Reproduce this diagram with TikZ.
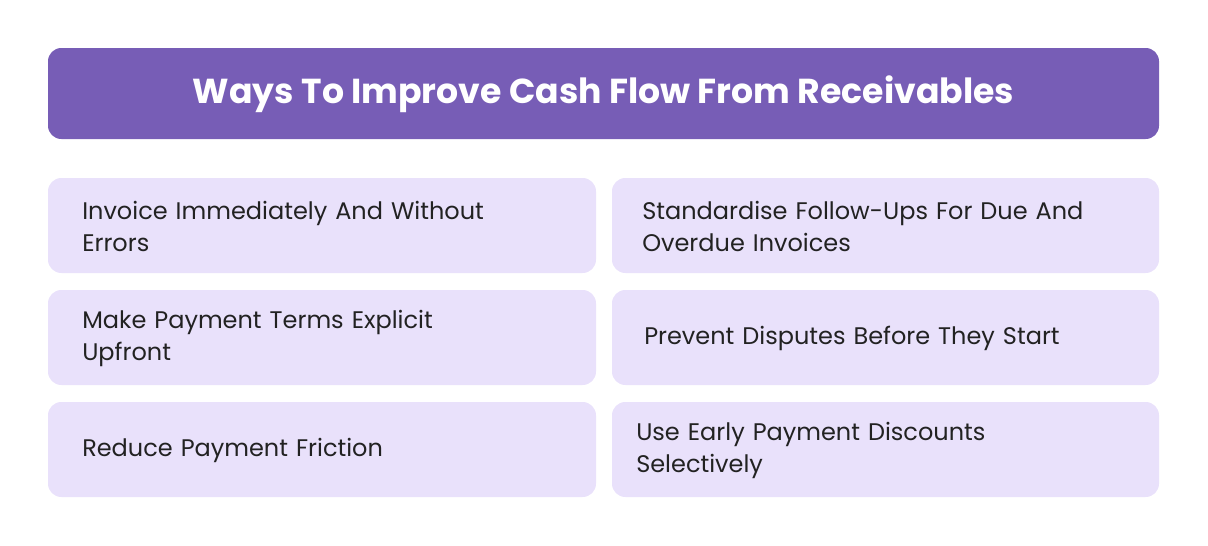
\documentclass[tikz,border=0pt]{standalone}
\usepackage{fontspec}
\setmainfont{Poppins}
\definecolor{hdr}{HTML}{775DB6}
\definecolor{card}{HTML}{E9E1FB}
\definecolor{ink}{HTML}{222222}
\begin{document}
\begin{tikzpicture}[x=0.75pt,y=-0.75pt,
  cardbox/.style={fill=card,draw=none,rounded corners=10pt},
  cardtxt/.style={anchor=west,align=left,text=ink,font=\fontsize{18}{24}\selectfont,inner sep=0pt,text width=360pt}]
\useasboundingbox (0,0) rectangle (1208,546);
\fill[hdr,rounded corners=10pt] (48,48) rectangle (1159,139);
\node[text=white,font=\bfseries\fontsize{26}{30}\selectfont] (t) at (603.5,94) {Ways To Improve Cash Flow From Receivables};
\fill[cardbox] (48,178) rectangle (596,273);
\fill[cardbox] (612,178) rectangle (1159,273);
\fill[cardbox] (48,290) rectangle (596,385);
\fill[cardbox] (612,290) rectangle (1159,385);
\fill[cardbox] (48,402) rectangle (596,497);
\fill[cardbox] (612,402) rectangle (1159,497);
\node[cardtxt] (a) at (82,226) {Invoice Immediately And Without\\Errors};
\node[cardtxt] (b) at (642,226) {Standardise Follow-Ups For Due And\\Overdue Invoices};
\node[cardtxt] (c) at (82,338) {Make Payment Terms Explicit\\Upfront};
\node[cardtxt] (d) at (644,338) {Prevent Disputes Before They Start};
\node[cardtxt] (e) at (82,450) {Reduce Payment Friction};
\node[cardtxt] (f) at (636,450) {Use Early Payment Discounts\\Selectively};
\end{tikzpicture}
\end{document}
